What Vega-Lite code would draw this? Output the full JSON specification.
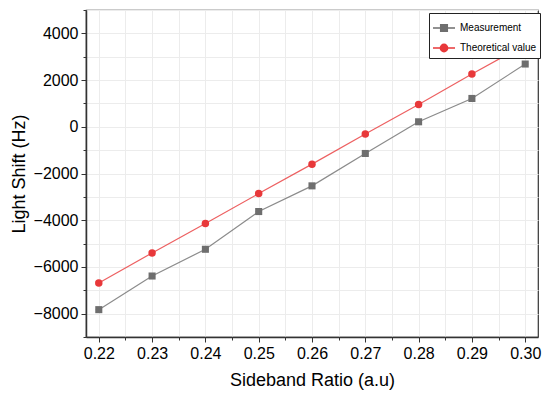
{
  "$schema": "https://vega.github.io/schema/vega-lite/v6.json",
  "autosize": "none",
  "width": 452,
  "height": 327,
  "padding": {"left": 86, "top": 10, "right": 12, "bottom": 61},
  "background": "white",
  "config": {
    "view": {"stroke": "#333333", "strokeWidth": 1.2},
    "axis": {
      "labelFont": "Liberation Sans",
      "titleFont": "Liberation Sans",
      "labelColor": "black",
      "titleColor": "black",
      "titleFontWeight": "normal",
      "domainColor": "#333333",
      "domainWidth": 1.5,
      "tickColor": "#333333",
      "gridColor": "#ececec",
      "gridWidth": 1
    }
  },
  "data": {
    "values": [
      {"ratio": 0.22, "shift": -7829, "series": "Measurement"},
      {"ratio": 0.23, "shift": -6389, "series": "Measurement"},
      {"ratio": 0.24, "shift": -5244, "series": "Measurement"},
      {"ratio": 0.25, "shift": -3629, "series": "Measurement"},
      {"ratio": 0.26, "shift": -2529, "series": "Measurement"},
      {"ratio": 0.27, "shift": -1143, "series": "Measurement"},
      {"ratio": 0.28, "shift": 214, "series": "Measurement"},
      {"ratio": 0.29, "shift": 1213, "series": "Measurement"},
      {"ratio": 0.30, "shift": 2687, "series": "Measurement"},
      {"ratio": 0.22, "shift": -6690, "series": "Theoretical value"},
      {"ratio": 0.23, "shift": -5400, "series": "Theoretical value"},
      {"ratio": 0.24, "shift": -4143, "series": "Theoretical value"},
      {"ratio": 0.25, "shift": -2859, "series": "Theoretical value"},
      {"ratio": 0.26, "shift": -1599, "series": "Theoretical value"},
      {"ratio": 0.27, "shift": -313, "series": "Theoretical value"},
      {"ratio": 0.28, "shift": 956, "series": "Theoretical value"},
      {"ratio": 0.29, "shift": 2259, "series": "Theoretical value"},
      {"ratio": 0.30, "shift": 3515, "series": "Theoretical value"}
    ]
  },
  "encoding": {
    "x": {
      "field": "ratio",
      "type": "quantitative",
      "scale": {"domain": [0.2176, 0.3024], "nice": false, "zero": false},
      "axis": {
        "title": "Sideband Ratio (a.u)",
        "titleFontSize": 18,
        "titlePadding": 10,
        "labelFontSize": 16,
        "labelPadding": 3,
        "values": [0.22, 0.225, 0.23, 0.235, 0.24, 0.245, 0.25, 0.255, 0.26, 0.265, 0.27, 0.275, 0.28, 0.285, 0.29, 0.295, 0.3],
        "labelExpr": "round(datum.value*200) % 2 == 0 ? format(datum.value, '.2f') : ''",
        "tickSize": {"condition": {"test": "round(datum.value*200) % 2 == 0", "value": 5}, "value": 3},
        "labelFlush": false,
        "labelOverlap": false
      }
    },
    "y": {
      "field": "shift",
      "type": "quantitative",
      "scale": {"domain": [-9000, 5000], "nice": false, "zero": false},
      "axis": {
        "title": "Light Shift (Hz)",
        "titleFontSize": 18,
        "titlePadding": 5,
        "labelFontSize": 16,
        "labelPadding": 3,
        "values": [-9000, -8000, -7000, -6000, -5000, -4000, -3000, -2000, -1000, 0, 1000, 2000, 3000, 4000, 5000],
        "labelExpr": "round(datum.value) % 2000 == 0 ? format(datum.value, 'd') : ''",
        "tickSize": {"condition": {"test": "round(datum.value) % 2000 == 0", "value": 5}, "value": 3},
        "labelFlush": false,
        "labelOverlap": false
      }
    },
    "color": {
      "field": "series",
      "type": "nominal",
      "scale": {"domain": ["Measurement", "Theoretical value"], "range": ["#6e6e6e", "#e8383a"]},
      "legend": {
        "orient": "none",
        "legendX": 343,
        "legendY": 3,
        "title": null,
        "strokeColor": "#222222",
        "fillColor": "white",
        "padding": 3,
        "labelFont": "Liberation Sans",
        "labelFontSize": 10,
        "labelColor": "black",
        "symbolSize": 484,
        "symbolOpacity": 1,
        "symbolStrokeWidth": 1.5,
        "rowPadding": 1,
        "labelOffset": 4
      }
    }
  },
  "layer": [
    {
      "mark": {"type": "line", "strokeWidth": 1.2, "strokeOpacity": 0.8}
    },
    {
      "mark": {"type": "point", "filled": false, "opacity": 1, "strokeWidth": 1},
      "encoding": {
        "shape": {
          "field": "series",
          "type": "nominal",
          "scale": {"domain": ["Measurement", "Theoretical value"], "range": ["M-1,0H1M-0.3,-0.3H0.3V0.3H-0.3ZM-0.2,-0.2H0.2V0.2H-0.2ZM-0.1,-0.1H0.1V0.1H-0.1Z", "M-1,0H1M0.33,0A0.33,0.33 0 1,1 -0.33,0A0.33,0.33 0 1,1 0.33,0ZM0.22,0A0.22,0.22 0 1,1 -0.22,0A0.22,0.22 0 1,1 0.22,0ZM0.11,0A0.11,0.11 0 1,1 -0.11,0A0.11,0.11 0 1,1 0.11,0Z"]},
          "legend": null
        },
        "size": {"value": 36}
      }
    },
    {
      "transform": [{"filter": "datum.series == 'Measurement'"}],
      "mark": {"type": "point", "filled": true, "opacity": 1, "shape": "square", "size": 50}
    },
    {
      "transform": [{"filter": "datum.series == 'Theoretical value'"}],
      "mark": {"type": "point", "filled": true, "opacity": 1, "shape": "circle", "size": 56}
    }
  ]
}
